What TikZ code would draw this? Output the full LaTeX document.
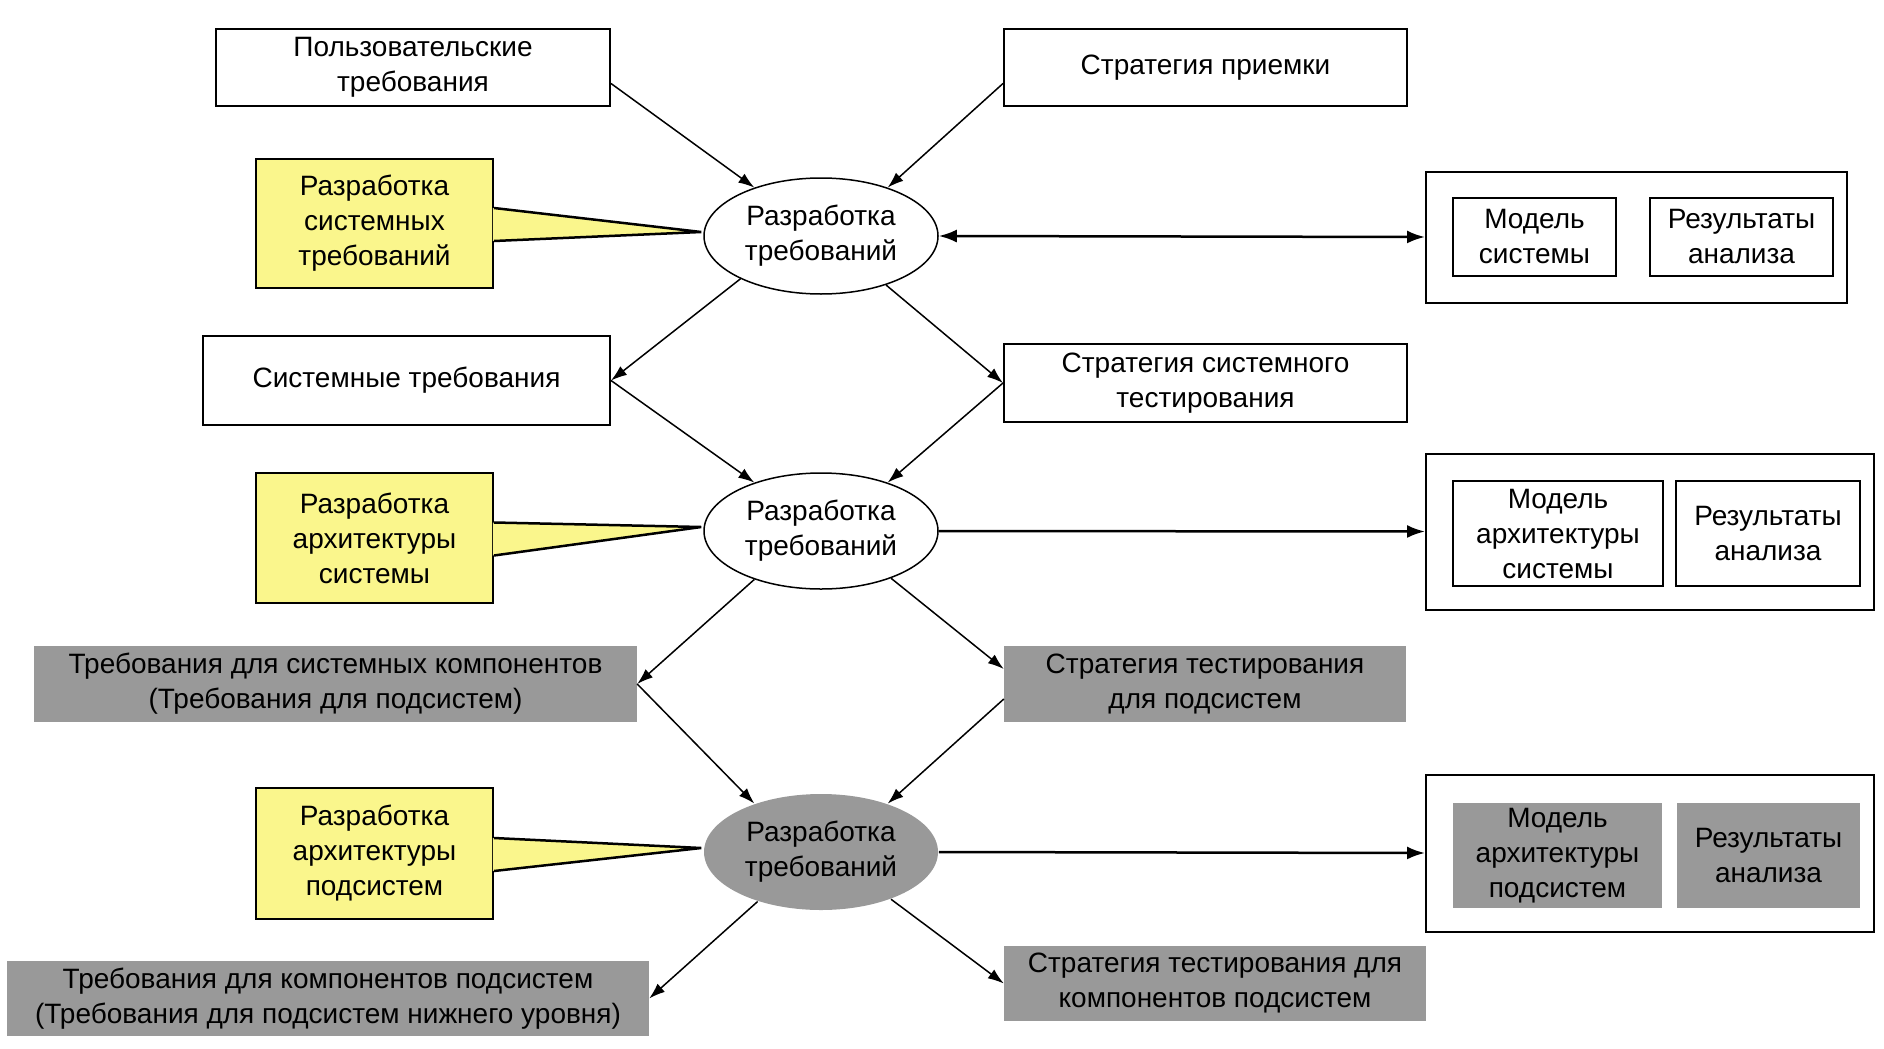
\documentclass[tikz,border=0pt]{standalone}
\usepackage{fontspec}
\setmainfont{Liberation Sans}
\usetikzlibrary{shapes.geometric, arrows.meta}

\definecolor{noteyellow}{RGB}{250,246,140}
\definecolor{boxgray}{RGB}{153,153,153}

\begin{document}
\begin{tikzpicture}[x=1pt, y=-1pt,
        every node/.style={font=\fontsize{28}{35}\selectfont, align=center, inner sep=0pt},
        wh/.style 2 args={minimum width=#1pt, minimum height=#2pt},
        box/.style={draw, line width=2pt, fill=white},
        graybox/.style={fill=boxgray},
        note/.style={draw, line width=2pt, fill=noteyellow},
        proc/.style={ellipse, draw, line width=1.5pt, fill=white, minimum width=234pt, minimum height=116pt},
        arr/.style={-{Latex[length=16pt,width=11pt]}, line width=1.5pt},
        harr/.style={-{Latex[length=18pt,width=13pt]}, line width=2.5pt}]
    \useasboundingbox (0,0) rectangle (1884,1049);

    % first level
    \node[box, wh={394}{77}] (ub) at (413,67.5) {Пользовательские\\требования};
    \node[box, wh={403}{77}] (sp) at (1205.5,67.5) {Стратегия приемки};
    \node[note, wh={237}{129}] (y1) at (374.5,223.5) {Разработка\\системных\\требований};
    \node[proc] (e1) at (821,236) {Разработка\\требований};
    \node[box, wh={421}{131}] (rb1) at (1636.5,237) {};
    \node[box, wh={163}{78}] (m1) at (1534.5,237) {Модель\\системы};
    \node[box, wh={183}{78}] (r1) at (1741.5,237) {Результаты\\анализа};

    % second level
    \node[box, wh={407}{89}] (st) at (406.5,380.5) {Системные требования};
    \node[box, wh={403}{78}] (sst) at (1205.5,383) {Стратегия системного\\тестирования};
    \node[note, wh={237}{130}] (y2) at (374.5,538) {Разработка\\архитектуры\\системы};
    \node[proc] (e2) at (821,531) {Разработка\\требований};
    \node[box, wh={448}{156}] (rb2) at (1650,531.5) {};
    \node[box, wh={210}{105}] (m2) at (1558,533.5) {Модель\\архитектуры\\системы};
    \node[box, wh={184}{105}] (r2) at (1768,533.5) {Результаты\\анализа};

    % third level
    \node[graybox, wh={603}{76}] (tsk) at (335.5,684) {Требования для системных компонентов\\(Требования для подсистем)};
    \node[graybox, wh={402}{76}] (stp) at (1205,684) {Стратегия тестирования\\для подсистем};
    \node[note, wh={237}{131}] (y3) at (374.5,853.5) {Разработка\\архитектуры\\подсистем};
    \node[proc, draw=none, fill=boxgray] (e3) at (821,852) {Разработка\\требований};
    \node[box, wh={448}{157}] (rb3) at (1650,853) {};
    \node[graybox, wh={209}{105}] (m3) at (1557.5,855.5) {Модель\\архитектуры\\подсистем};
    \node[graybox, wh={183}{105}] (r3) at (1768.5,855.5) {Результаты\\анализа};

    % bottom
    \node[graybox, wh={642}{75}] (tkp) at (328,998.5) {Требования для компонентов подсистем\\(Требования для подсистем нижнего уровня)};
    \node[graybox, wh={422}{75}] (stk) at (1215,983.5) {Стратегия тестирования для\\компонентов подсистем};

    % callouts
    \foreach \n in {1,2,3} {
        \fill[noteyellow] ([xshift=-1.2pt,yshift=15.5pt]y\n.east) -- ([xshift=-2pt,yshift=4pt]e\n.west)
            -- ([xshift=-1.2pt,yshift=-17.5pt]y\n.east) -- cycle;
        \draw[line width=2.5pt] ([yshift=15.5pt]y\n.east) -- ([xshift=-2pt,yshift=4pt]e\n.west)
            -- ([yshift=-17.5pt]y\n.east);
    }

    % connectors
    \draw[arr] ([yshift=-16pt]ub.east) -- (e1.144);
    \draw[arr] ([yshift=-16pt]sp.west) -- (e1.36);
    \draw[harr, {Latex[length=18pt,width=13pt]}-{Latex[length=18pt,width=13pt]}] (e1.east) -- (rb1.west);
    \draw[arr] (e1.208) -- (st.east);
    \draw[arr] (e1.323) -- (sst.west);
    \draw[arr] (st.east) -- (e2.144);
    \draw[arr] (sst.west) -- (e2.36);
    \draw[harr] (e2.east) -- (rb2.west);
    \draw[arr] (e2.216) -- (tsk.east);
    \draw[arr] (e2.326) -- ([yshift=15pt]stp.west);
    \draw[arr] (tsk.east) -- (e3.144);
    \draw[arr] ([yshift=-15pt]stp.west) -- (e3.36);
    \draw[harr] (e3.east) -- (rb3.west);
    \draw[arr] (e3.218) -- (tkp.east);
    \draw[arr] (e3.326) -- (stk.west);
\end{tikzpicture}
\end{document}
